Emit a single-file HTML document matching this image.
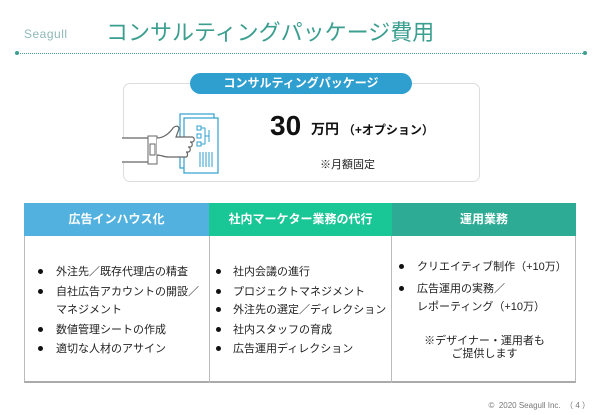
<!DOCTYPE html>
<html><head><meta charset="utf-8"><style>
body{margin:0;width:600px;height:415px;background:#fff;position:relative;overflow:hidden;font-family:"Liberation Sans","Noto Sans CJK JP",sans-serif;}
.a{position:absolute;white-space:nowrap;}
.li{position:absolute;font-size:11px;color:#222;white-space:nowrap;line-height:14px;}
.dot{position:absolute;width:5px;height:5px;border-radius:50%;background:#111;}
.h{position:absolute;top:203px;height:33px;line-height:33px;text-align:center;color:#fff;font-weight:bold;font-size:12px;}
</style></head><body>
<div class="a" style="left:24px;top:27px;font-size:12px;color:#8fb8b8;letter-spacing:0.5px;">Seagull</div>
<div class="a" style="left:106px;top:18px;font-size:22px;color:#3b9e8f;line-height:30px;">コンサルティングパッケージ費用</div>
<div class="a" style="left:17px;top:53px;width:568px;border-top:1px dotted #4aa597;"></div>
<div class="a" style="left:15px;top:51px;width:4px;height:4px;border-radius:50%;background:#3d9f8f;"></div>
<div class="a" style="left:583px;top:51px;width:4px;height:4px;border-radius:50%;background:#3d9f8f;"></div>

<div class="a" style="left:123px;top:83px;width:355px;height:97px;border:1px solid #ddd;border-radius:7px;"></div>
<div class="a" style="left:190px;top:73px;width:222px;height:21px;border-radius:11px;background:#2f9fcf;color:#fff;font-weight:bold;font-size:12px;line-height:21px;text-align:center;">コンサルティングパッケージ</div>
<svg class="a" style="left:120px;top:110px" width="105" height="70" viewBox="0 0 105 70" fill="none">
<rect x="60" y="4" width="34" height="54" fill="#fff" stroke="#2f9fcf" stroke-width="1.2"/>
<rect x="64" y="8" width="34" height="55" fill="#fff" stroke="#2f9fcf" stroke-width="1.2"/>
<g stroke="#2f9fcf" stroke-width="1"><rect x="77" y="16" width="4" height="4"/><rect x="77" y="24" width="4" height="4"/><rect x="77" y="32" width="4" height="4"/><path d="M81 18h4v16h-4M85 26h4M89 20v12"/><path d="M80 42v15M83 42v15M86 42v15M89 42v15M92 42v15"/></g>
<path d="M2 28h28v24H2" stroke="#666" stroke-width="1.2" fill="#fff"/>
<rect x="28" y="26" width="9" height="28" stroke="#666" fill="#fff"/>
<rect x="30" y="34" width="5" height="11" stroke="#666" fill="#fff"/>
<path d="M37 28c6 0 12-4 16-10 3-3 6-2 6 1l-3 8h16c3 0 3 5 0 5h-2c3 0 3 5 0 5h-2c3 0 3 5 0 5h-2c2 0 2 5 0 5H48c-4 0-7-2-11-2" stroke="#666" stroke-width="1.2" fill="#fff"/>
</svg>
<div class="a" style="left:270px;top:110px;font-size:28px;font-weight:bold;color:#111;line-height:32px;">30</div>
<div class="a" style="left:311px;top:119px;font-size:14px;font-weight:bold;color:#111;line-height:20px;">万円 <span style="font-size:12px;">（+オプション）</span></div>
<div class="a" style="left:320px;top:156px;font-size:11px;color:#222;">※月額固定</div>

<div class="a" style="left:24px;top:203px;width:552px;height:180px;border:1px solid #bbb;border-bottom:2px solid #aaa;box-sizing:border-box;"></div>
<div class="h" style="left:24px;width:185px;background:#52b1df;">広告インハウス化</div>
<div class="h" style="left:209px;width:183px;background:#19c696;">社内マーケター業務の代行</div>
<div class="h" style="left:392px;width:184px;background:#2eab94;">運用業務</div>
<div class="a" style="left:209px;top:236px;height:147px;border-left:1px solid #bbb;"></div>
<div class="a" style="left:391px;top:236px;height:147px;border-left:1px solid #bbb;"></div>

<div class="dot" style="left:38px;top:269px"></div><div class="li" style="left:56px;top:265px">外注先／既存代理店の精査</div>
<div class="dot" style="left:38px;top:289px"></div><div class="li" style="left:56px;top:285px">自社広告アカウントの開設／</div>
<div class="li" style="left:56px;top:303px">マネジメント</div>
<div class="dot" style="left:38px;top:327px"></div><div class="li" style="left:56px;top:323px">数値管理シートの作成</div>
<div class="dot" style="left:38px;top:346px"></div><div class="li" style="left:56px;top:342px">適切な人材のアサイン</div>

<div class="dot" style="left:216px;top:269px"></div><div class="li" style="left:233px;top:265px">社内会議の進行</div>
<div class="dot" style="left:216px;top:289px"></div><div class="li" style="left:233px;top:285px">プロジェクトマネジメント</div>
<div class="dot" style="left:216px;top:307px"></div><div class="li" style="left:233px;top:303px">外注先の選定／ディレクション</div>
<div class="dot" style="left:216px;top:327px"></div><div class="li" style="left:233px;top:323px">社内スタッフの育成</div>
<div class="dot" style="left:216px;top:346px"></div><div class="li" style="left:233px;top:342px">広告運用ディレクション</div>

<div class="dot" style="left:399px;top:264px"></div><div class="li" style="left:417px;top:260px">クリエイティブ制作（+10万）</div>
<div class="dot" style="left:399px;top:286px"></div><div class="li" style="left:417px;top:282px">広告運用の実務／</div>
<div class="li" style="left:417px;top:300px">レポーティング（+10万）</div>
<div class="li" style="left:392px;width:185px;text-align:center;top:334px">※デザイナー・運用者も</div>
<div class="li" style="left:392px;width:185px;text-align:center;top:347px">ご提供します</div>

<div class="a" style="right:10px;top:400px;font-size:8px;color:#777;">©&nbsp; 2020 Seagull Inc.&nbsp; （ 4 ）</div>
</body></html>
